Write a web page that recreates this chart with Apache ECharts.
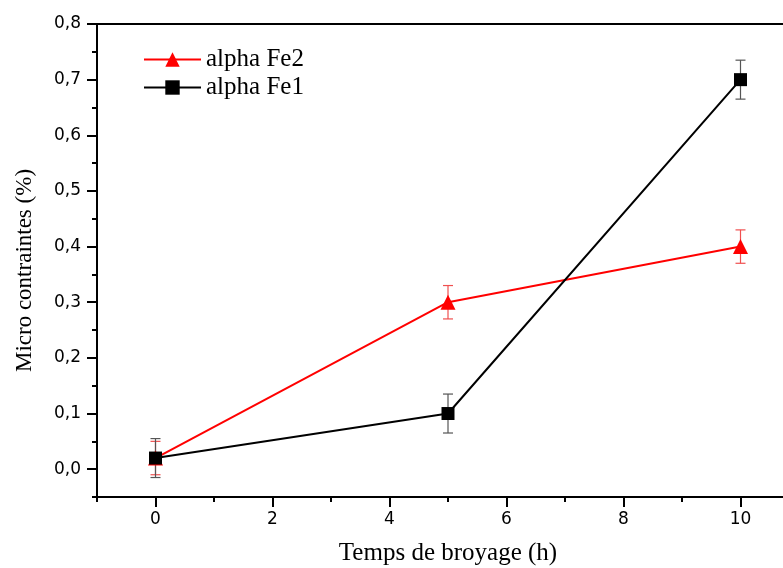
<!DOCTYPE html>
<html>
<head>
<meta charset="utf-8">
<script src="https://cdn.jsdelivr.net/npm/echarts@6/dist/echarts.min.js"></script>
<style>
  html, body { margin: 0; padding: 0; background: #fff; }
  #main { width: 783px; height: 568px; }
</style>
</head>
<body>
<div id="main"></div>
<script>
// donnees
var temps = [0, 5, 10];
var fe2 = [0.02, 0.30, 0.40];
var fe2Err = [0.03, 0.03, 0.03];
var fe1 = [0.02, 0.10, 0.70];
var fe1Err = [0.035, 0.035, 0.035];

// graduations
var xMajor = [0, 2, 4, 6, 8, 10];
var xMinor = [-1, 1, 3, 5, 7, 9, 11];
var yMajor = [0, 0.1, 0.2, 0.3, 0.4, 0.5, 0.6, 0.7, 0.8];
var yMinor = [-0.05, 0.05, 0.15, 0.25, 0.35, 0.45, 0.55, 0.65, 0.75];

function pts(ys) {
  var a = [];
  for (var i = 0; i < temps.length; i++) a.push([temps[i], ys[i]]);
  return a;
}
function errs(ys, e) {
  var a = [];
  for (var i = 0; i < temps.length; i++) a.push([temps[i], ys[i] - e[i], ys[i] + e[i]]);
  return a;
}

function errorBar(color) {
  return function (params, api) {
    var x = api.value(0);
    var lo = api.coord([x, api.value(1)]);
    var hi = api.coord([x, api.value(2)]);
    var w = 5;
    var st = { stroke: color, lineWidth: 1.2 };
    return {
      type: 'group',
      children: [
        { type: 'line', shape: { x1: lo[0], y1: lo[1], x2: hi[0], y2: hi[1] }, style: st },
        { type: 'line', shape: { x1: lo[0] - w, y1: lo[1], x2: lo[0] + w, y2: lo[1] }, style: st },
        { type: 'line', shape: { x1: hi[0] - w, y1: hi[1], x2: hi[0] + w, y2: hi[1] }, style: st }
      ]
    };
  };
}

var lbl = { fontFamily: 'DejaVu Sans', fontSize: 17, color: '#000' };

var chart = echarts.init(document.getElementById('main'));
chart.setOption({
  animation: false,
  backgroundColor: '#fff',
  grid: {
    left: 97, top: 24, width: 702, height: 473,
    outerBoundsMode: 'none', containLabel: false,
    show: true, borderColor: '#000', borderWidth: 2
  },
  legend: {
    orient: 'vertical', left: 143, top: 47, padding: 0,
    itemWidth: 57, itemHeight: 18, itemGap: 3,
    textStyle: { fontFamily: 'Liberation Serif', fontSize: 25, color: '#000' },
    data: ['alpha Fe2', 'alpha Fe1']
  },
  xAxis: [{
    type: 'value', min: -1, max: 11,
    name: 'Temps de broyage (h)', nameLocation: 'middle', nameGap: 44,
    nameTextStyle: { fontFamily: 'Liberation Serif', fontSize: 25, color: '#000' },
    axisLine: { onZero: false, lineStyle: { color: '#000', width: 2 } },
    axisTick: { inside: false, length: 10, lineStyle: { color: '#000', width: 2 }, customValues: xMajor },
    axisLabel: Object.assign({ margin: 14, customValues: xMajor }, lbl),
    splitLine: { show: false }
  }, {
    type: 'value', min: -1, max: 11, position: 'bottom',
    axisLine: { show: false, onZero: false },
    axisTick: { length: 5, lineStyle: { color: '#000', width: 2 }, customValues: xMinor },
    axisLabel: { show: false },
    splitLine: { show: false }
  }],
  yAxis: [{
    type: 'value', min: -0.05, max: 0.8,
    name: 'Micro contraintes (%)', nameLocation: 'middle', nameGap: 61,
    nameTextStyle: { fontFamily: 'Liberation Serif', fontSize: 23, color: '#000', padding: [0, 20, 0, 0] },
    axisLine: { show: true, onZero: false, lineStyle: { color: '#000', width: 2 } },
    axisTick: { show: true, length: 10, lineStyle: { color: '#000', width: 2 }, customValues: yMajor },
    axisLabel: Object.assign({
      margin: 16, customValues: yMajor,
      formatter: function (v) { return v.toFixed(1).replace('.', ','); }
    }, lbl),
    splitLine: { show: false }
  }, {
    type: 'value', min: -0.05, max: 0.8, position: 'left',
    axisLine: { show: false, onZero: false },
    axisTick: { show: true, length: 5, lineStyle: { color: '#000', width: 2 }, customValues: yMinor },
    axisLabel: { show: false },
    splitLine: { show: false }
  }],
  series: [{
    type: 'custom', name: 'errFe2', renderItem: errorBar('#f05050'),
    data: errs(fe2, fe2Err), encode: { x: 0, y: [1, 2] }, z: 1, silent: true
  }, {
    type: 'custom', name: 'errFe1', renderItem: errorBar('#555'),
    data: errs(fe1, fe1Err), encode: { x: 0, y: [1, 2] }, z: 1, silent: true
  }, {
    type: 'line', name: 'alpha Fe2', data: pts(fe2),
    symbol: 'triangle', symbolSize: 15, showAllSymbol: true,
    lineStyle: { color: '#ff0000', width: 2 },
    itemStyle: { color: '#ff0000' }, z: 3
  }, {
    type: 'line', name: 'alpha Fe1', data: pts(fe1),
    symbol: 'rect', symbolSize: 13, showAllSymbol: true,
    lineStyle: { color: '#000', width: 2 },
    itemStyle: { color: '#000' }, z: 4
  }]
});
</script>
</body>
</html>
